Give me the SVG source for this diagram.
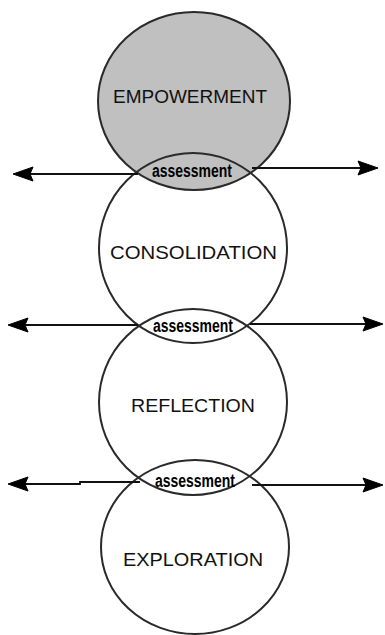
<svg xmlns="http://www.w3.org/2000/svg" width="385" height="635" viewBox="0 0 385 635">
<defs>
<style>
.c{stroke:#2a2a2a;stroke-width:2;fill:none}
.lbl{font-family:"Liberation Sans",Arial,sans-serif;font-size:19px;fill:#111;text-anchor:middle}
.as{font-family:"Liberation Sans",Arial,sans-serif;font-size:18px;font-weight:bold;fill:#000;text-anchor:middle}
.ln{stroke:#111;stroke-width:1.8;fill:none}
.hd{fill:#000;stroke:#000;stroke-width:1;stroke-linejoin:round}
</style>
</defs>
<rect width="385" height="635" fill="#fff"/>
<g id="fills">
<ellipse cx="195" cy="547" rx="94" ry="87" fill="#fff"/>
<ellipse cx="193" cy="402" rx="94" ry="93" fill="#fff"/>
<ellipse cx="193" cy="248" rx="94" ry="95" fill="#fff"/>
<ellipse cx="194" cy="101" rx="96" ry="89" fill="#c0c0c0"/>
</g>
<g id="empowerment">
<ellipse class="c" cx="194" cy="101" rx="96" ry="89"/>
<text class="lbl" x="190" y="103" textLength="154" lengthAdjust="spacingAndGlyphs">EMPOWERMENT</text>
</g>
<g id="consolidation">
<ellipse class="c" cx="193" cy="248" rx="94" ry="95" stroke-width="2.5"/>
<text class="lbl" x="193.5" y="259" textLength="167" lengthAdjust="spacingAndGlyphs">CONSOLIDATION</text>
</g>
<g id="reflection">
<ellipse class="c" cx="193" cy="402" rx="94" ry="93"/>
<text class="lbl" x="193" y="412" textLength="124" lengthAdjust="spacingAndGlyphs">REFLECTION</text>
</g>
<g id="exploration">
<ellipse class="c" cx="195" cy="547" rx="94" ry="87"/>
<text class="lbl" x="193" y="566" textLength="140" lengthAdjust="spacingAndGlyphs">EXPLORATION</text>
</g>
<g id="assessment-labels">
<text class="as" x="192" y="177" textLength="80" lengthAdjust="spacingAndGlyphs">assessment</text>
<text class="as" x="193" y="332" textLength="80" lengthAdjust="spacingAndGlyphs">assessment</text>
<text class="as" x="195" y="487" textLength="80" lengthAdjust="spacingAndGlyphs">assessment</text>
</g>
<g id="connectors">
<line class="ln" x1="138" y1="174" x2="25" y2="174"/>
<polygon class="hd" points="13,174 33,167 30,174 33,181"/>
<line class="ln" x1="252" y1="168" x2="366" y2="168"/>
<polygon class="hd" points="378,168 358,161 361,168 358,175"/>
<line class="ln" x1="138" y1="325" x2="20" y2="325"/>
<polygon class="hd" points="8,325 28,318 25,325 28,332"/>
<line class="ln" x1="250" y1="324" x2="371" y2="324"/>
<polygon class="hd" points="383,324 363,317 366,324 363,331"/>
<polyline class="ln" points="140,482 80,482 80,484 20,484"/>
<polygon class="hd" points="8,484 28,477 25,484 28,491"/>
<line class="ln" x1="252" y1="485" x2="371" y2="485"/>
<polygon class="hd" points="383,485 363,478 366,485 363,492"/>
</g>
</svg>
